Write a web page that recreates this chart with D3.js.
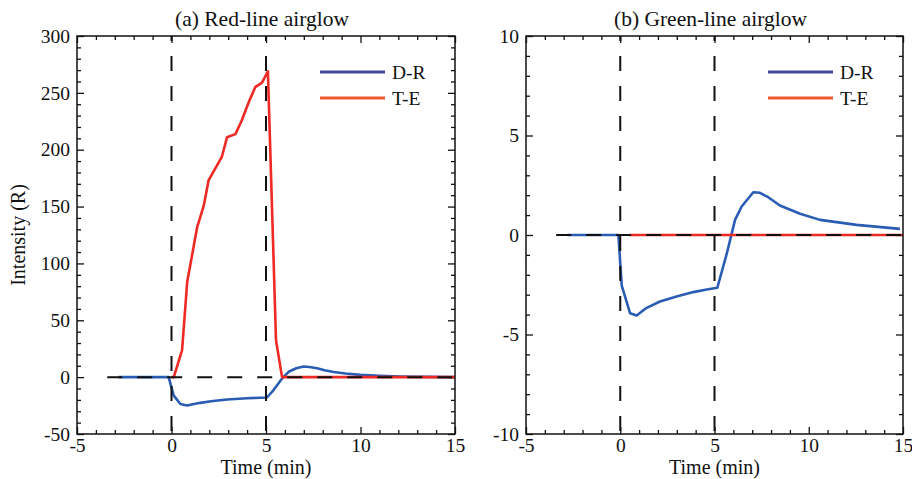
<!DOCTYPE html>
<html lang="en">
<head>
    <meta charset="UTF-8">
    <title>Red-line and green-line airglow</title>
    <script src="https://d3js.org/d3.v7.min.js"></script>
    <style>
        body { margin: 0; background: #fff; }
        svg text { font-family: "Liberation Serif", "Tinos", "Times New Roman", serif; fill: #111; }
    </style>
</head>
<body>
<div id="chart"></div>
<script>

// (a) Red-line airglow
const redTimeDR = [-2.8, -0.15, 0.11, 0.47, 0.82, 1.52, 2.2, 2.94, 4.0, 5.05, 5.4, 5.85, 6.2, 6.6, 6.99, 7.3, 7.7, 8.1, 8.58, 9.2, 9.99, 11, 12.1, 13.5, 15];
const redDR     = [0, 0, -16, -23.6, -24.9, -22.6, -21, -19.6, -18.5, -17.9, -11.4, -1.2, 4.7, 7.8, 9.3, 8.9, 7.8, 6.0, 4.5, 3.2, 2.0, 1.2, 0.6, 0.2, 0];
const redTimeTE = [0, 0.12, 0.56, 0.83, 1.36, 1.71, 1.96, 2.32, 2.67, 2.94, 3.38, 3.7, 4.09, 4.43, 4.79, 5.1, 5.53, 5.85, 15];
const redTE     = [0, 0, 23.7, 83.6, 132, 151, 173, 183.5, 194, 211, 213.7, 225, 242, 255, 259, 269, 32.5, 0, 0];

// (b) Green-line airglow
const greenTimeDR = [-2.8, -0.1, 0.08, 0.52, 0.87, 1.4, 2.11, 2.99, 3.88, 4.59, 5.15, 5.65, 6.09, 6.44, 7.06, 7.41, 7.85, 8.47, 9.54, 10.6, 12.54, 14.84];
const greenDR     = [0, 0, -2.55, -3.93, -4.05, -3.66, -3.34, -3.09, -2.87, -2.74, -2.65, -0.94, 0.76, 1.43, 2.15, 2.12, 1.9, 1.48, 1.07, 0.76, 0.51, 0.31];
const greenTimeTE = [0.5, 5, 10, 15];
const greenTE     = [0, 0, 0, 0];

const xTicks = [-5, 0, 5, 10, 15];
const redYTicks = [-50, 0, 50, 100, 150, 200, 250, 300];
const greenYTicks = [-10, -5, 0, 5, 10];
const seriesNames = ["D-R", "T-E"];

const width = 912;
const height = 479;
const plotTop = 36, plotBottom = 434;

const curveColors = { "D-R": "#2a5cb3", "T-E": "#ee2a24" };
const legendColors = { "D-R": "#3e48a3", "T-E": "#f05a30" };

const svg = d3.select("#chart").append("svg")
    .attr("width", width)
    .attr("height", height);

function zip(xs, ys) {
    return xs.map((x, i) => ({ t: x, v: ys[i] }));
}

function drawPanel(opt) {
    const x = d3.scaleLinear().domain([-5, 15]).range([opt.left, opt.right]);
    const y = d3.scaleLinear().domain(opt.yDomain).range([plotBottom, plotTop]);
    const g = svg.append("g");

    const minorX = d3.range(-5, 15.01, 1).filter(d => d % 5 !== 0);
    const minorY = d3.range(opt.yDomain[0], opt.yDomain[1] + 0.01, opt.yMinor)
        .filter(d => !opt.yTicks.includes(d));

    const fmt = d => String(d);

    // major and minor ticks on all four sides, pointing inward
    const axes = [
        [d3.axisBottom(x).tickValues(xTicks).tickSize(-7).tickPadding(4).tickFormat(fmt), `translate(0,${plotBottom})`],
        [d3.axisBottom(x).tickValues(minorX).tickSize(-4).tickFormat(""), `translate(0,${plotBottom})`],
        [d3.axisTop(x).tickValues(xTicks).tickSize(-7).tickFormat(""), `translate(0,${plotTop})`],
        [d3.axisTop(x).tickValues(minorX).tickSize(-4).tickFormat(""), `translate(0,${plotTop})`],
        [d3.axisLeft(y).tickValues(opt.yTicks).tickSize(-7).tickPadding(7).tickFormat(fmt), `translate(${opt.left},0)`],
        [d3.axisLeft(y).tickValues(minorY).tickSize(-4).tickFormat(""), `translate(${opt.left},0)`],
        [d3.axisRight(y).tickValues(opt.yTicks).tickSize(-7).tickFormat(""), `translate(${opt.right},0)`],
        [d3.axisRight(y).tickValues(minorY).tickSize(-4).tickFormat(""), `translate(${opt.right},0)`]
    ];
    axes.forEach(([ax, tr]) => {
        const a = g.append("g").attr("transform", tr).call(ax.tickSizeOuter(0));
        a.select(".domain").remove();
        a.selectAll("line").attr("stroke", "#111").attr("stroke-width", 1.3);
        a.selectAll("text").attr("font-size", 19.5).attr("font-family", null).attr("fill", "#111");
    });

    // curves
    const line = d3.line().x(d => x(d.t)).y(d => y(d.v));
    g.append("path")
        .datum(zip(opt.timeDR, opt.dr))
        .attr("d", line)
        .attr("fill", "none")
        .attr("stroke", curveColors["D-R"])
        .attr("stroke-width", 2.6)
        .attr("stroke-linejoin", "round");
    g.append("path")
        .datum(zip(opt.timeTE, opt.te))
        .attr("d", line)
        .attr("fill", "none")
        .attr("stroke", curveColors["T-E"])
        .attr("stroke-width", 2.6)
        .attr("stroke-linejoin", "round");

    // dashed reference lines
    g.append("line")
        .attr("x1", x(-3.4)).attr("x2", x(15))
        .attr("y1", y(0)).attr("y2", y(0))
        .attr("stroke", "#111").attr("stroke-width", 2)
        .attr("stroke-dasharray", "15,15");
    [0, 5].forEach(t => {
        g.append("line")
            .attr("x1", x(t)).attr("x2", x(t))
            .attr("y1", plotTop).attr("y2", plotBottom)
            .attr("stroke", "#111").attr("stroke-width", 2)
            .attr("stroke-dasharray", "15,15")
            .attr("stroke-dashoffset", 10);
    });

    // frame
    g.append("rect")
        .attr("x", opt.left).attr("y", plotTop)
        .attr("width", opt.right - opt.left).attr("height", plotBottom - plotTop)
        .attr("fill", "none").attr("stroke", "#111").attr("stroke-width", 1.5);

    // legend
    seriesNames.forEach((name, i) => {
        const ly = 72 + i * 26;
        g.append("line")
            .attr("x1", opt.right - 135).attr("x2", opt.right - 70)
            .attr("y1", ly).attr("y2", ly)
            .attr("stroke", legendColors[name]).attr("stroke-width", 2.8);
        g.append("text")
            .attr("x", opt.right - 63).attr("y", ly + 7)
            .attr("font-size", 19.5)
            .text(name);
    });

    // titles
    const cx = (opt.left + opt.right) / 2;
    g.append("text")
        .attr("x", cx - 4).attr("y", 26)
        .attr("text-anchor", "middle")
        .attr("font-size", 21.5)
        .text(opt.title);
    g.append("text")
        .attr("x", cx).attr("y", 474)
        .attr("text-anchor", "middle")
        .attr("font-size", 20)
        .text("Time (min)");
    return g;
}

drawPanel({
    left: 77, right: 455,
    yDomain: [-50, 300], yTicks: redYTicks, yMinor: 10,
    timeDR: redTimeDR, dr: redDR, timeTE: redTimeTE, te: redTE,
    title: "(a) Red-line airglow"
});

drawPanel({
    left: 526, right: 903,
    yDomain: [-10, 10], yTicks: greenYTicks, yMinor: 1,
    timeDR: greenTimeDR, dr: greenDR, timeTE: greenTimeTE, te: greenTE,
    title: "(b) Green-line airglow"
});

svg.append("text")
    .attr("transform", "translate(25," + (plotTop + plotBottom) / 2 + ") rotate(-90)")
    .attr("text-anchor", "middle")
    .attr("font-size", 20)
    .text("Intensity (R)");

</script>
</body>
</html>
